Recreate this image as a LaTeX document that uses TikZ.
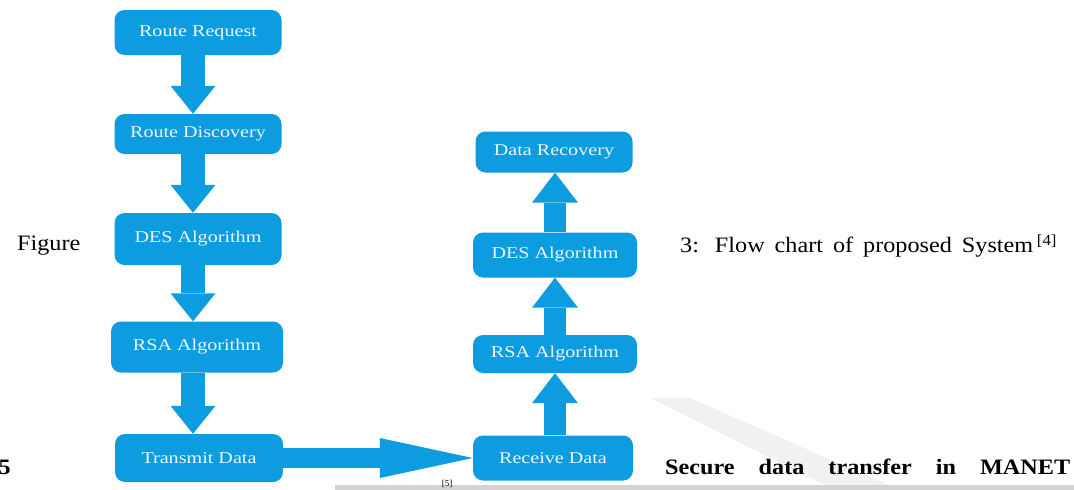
\documentclass[tikz,border=0pt]{standalone}
\usepackage{fontspec}
\setmainfont{Liberation Serif}
\newfontfamily\boxfont[FakeStretch=1.22]{Liberation Serif}
\newfontfamily\pagefont[FakeStretch=1.1]{Liberation Serif}
\usetikzlibrary{arrows.meta}
\definecolor{flowblue}{RGB}{14,156,224}
\definecolor{labelink}{RGB}{232,247,255}
\definecolor{scanshade}{RGB}{200,200,200}

\tikzset{
  stepbox/.style={fill=flowblue, rounded corners=10pt, text=labelink,
    font=\boxfont\fontsize{16.5}{16.5}\selectfont, inner sep=0pt},
  downarrow/.style={draw=flowblue, line width=24pt,
    -{Triangle[width=45pt,length=28pt,line width=0pt]}},
  uparrow/.style={draw=flowblue, line width=22pt,
    -{Triangle[width=46pt,length=30pt,line width=0pt]}},
  sidearrow/.style={draw=flowblue, line width=20pt,
    -{Triangle[width=40pt,length=93pt,line width=0pt]}},
  bodytext/.style={font=\pagefont\fontsize{22}{22}\selectfont, inner sep=0pt, text=black},
  headtext/.style={font=\pagefont\bfseries\fontsize{22}{22}\selectfont, inner sep=0pt, text=black, anchor=base west}
}

\begin{document}
\begin{tikzpicture}[x=1pt,y=-1pt]
\useasboundingbox (0,0) rectangle (1074,490);
\clip (0,0) rectangle (1074,490);
\fill[white] (0,0) rectangle (1074,490);

% faint page shading along the lower edge
\fill[scanshade!25] (650,398) -- (690,398) -- (900,490) -- (835,490) -- cycle;
\fill[scanshade!80] (335,485) rectangle (1074,490);

% sender side
\node[stepbox, minimum width=167pt, minimum height=45pt] (rr)   at (198,32.5) {Route Request};
\node[stepbox, minimum width=167pt, minimum height=40pt] (rd)   at (198,134)  {Route Discovery};
\node[stepbox, minimum width=167pt, minimum height=52pt] (des1) at (198,239)  {DES Algorithm};
\node[stepbox, minimum width=172pt, minimum height=51pt] (rsa1) at (197,347)  {RSA Algorithm};
\node[stepbox, minimum width=168pt, minimum height=48pt] (tx)   at (199,458)  {Transmit Data};

% receiver side
\node[stepbox, minimum width=157pt, minimum height=41pt] (dr)   at (554,152) {Data Recovery};
\node[stepbox, minimum width=164pt, minimum height=45pt] (des2) at (555,255) {DES Algorithm};
\node[stepbox, minimum width=164pt, minimum height=38pt] (rsa2) at (555,354) {RSA Algorithm};
\node[stepbox, minimum width=160pt, minimum height=45pt] (rx)   at (553,458) {Receive Data};

% block arrows
\draw[downarrow] ([xshift=-5pt]rr.south)   -- ([xshift=-5pt]rd.north);
\draw[downarrow] ([xshift=-5pt]rd.south)   -- ([xshift=-5pt]des1.north);
\draw[downarrow] ([xshift=-5pt]des1.south) -- ([xshift=-4pt]rsa1.north);
\draw[downarrow] ([xshift=-4pt]rsa1.south) -- ([xshift=-6pt]tx.north);
\draw[sidearrow] (tx.east) -- (rx.west);
\draw[uparrow] ([xshift=2pt]rx.north) -- (rsa2.south);
\draw[uparrow] (rsa2.north) -- (des2.south);
\draw[uparrow] (des2.north) -- ([xshift=1pt]dr.south);

% surrounding text
\node[bodytext, anchor=west] (figword) at (17,246) {Figure};
\node[bodytext, anchor=west] (caption) at (680,246)
  {\makebox[353pt][s]{3: Flow chart of proposed System}\,\textsuperscript{[4]}};
\node[headtext, anchor=base east] (secnum) at (11,474) {5};
\node[headtext] (heading) at (665,474)
  {\makebox[405pt][s]{Secure data transfer in MANET}};
\node[font=\fontsize{9}{9}\selectfont, inner sep=0pt, anchor=north] (refmark) at (447,480) {[5]};
\end{tikzpicture}
\end{document}
